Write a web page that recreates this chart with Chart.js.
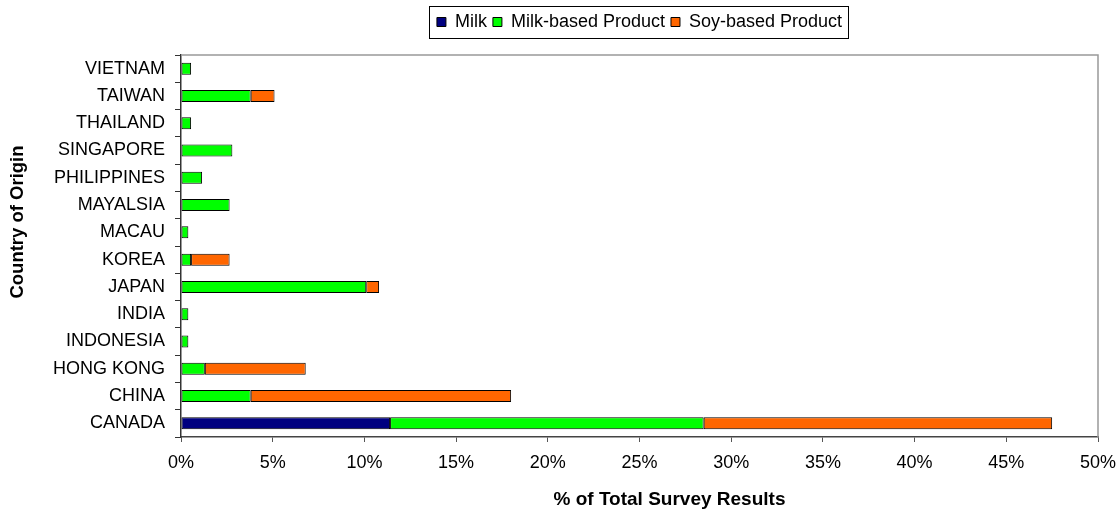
<!DOCTYPE html>
<html lang="en">
<head>
    <meta charset="UTF-8">
    <title>Country of Origin survey</title>
    <script src="https://cdn.jsdelivr.net/npm/chart.js"></script>
    <style>
        html, body { margin: 0; padding: 0; background: #fff; }
        #chart-container { width: 1120px; height: 515px; position: relative; }
    </style>
</head>
<body>
    <div id="chart-container">
        <canvas id="origin_bar-chart"></canvas>
    </div>

    <script>
        // Categories, top to bottom as in the picture
        var countries = ["VIETNAM", "TAIWAN", "THAILAND", "SINGAPORE", "PHILIPPINES", "MAYALSIA", "MACAU",
                         "KOREA", "JAPAN", "INDIA", "INDONESIA", "HONG KONG", "CHINA", "CANADA"];
        // % of total survey results (null = no bar)
        var milk      = [null, null, null, null, null, null, null, null, null, null, null, null, null, 11.4];
        var milkBased = [0.55, 3.8, 0.55, 2.8, 1.15, 2.65, 0.4, 0.55, 10.1, 0.4, 0.4, 1.3, 3.8, 17.1];
        var soyBased  = [null, 1.3, null, null, null, null, null, 2.1, 0.7, null, null, 5.5, 14.2, 19.0];
        var xTicks    = [0, 5, 10, 15, 20, 25, 30, 35, 40, 45, 50];

        var FONT = "'Liberation Sans', Arial, sans-serif";
        Chart.defaults.font.family = FONT;
        Chart.defaults.color = "#000";

        // gray frame on top and right of the plot, box around the legend, axis titles
        var excelFrame = {
            id: "excelFrame",
            beforeLayout: function (chart) {
                // legend band is taller than its items: plot starts at y=55
                var lg = chart.legend;
                if (lg && !lg._fixedFit) {
                    var fit = lg.fit;
                    lg.fit = function () { fit.call(this); this.height = 48; };
                    lg._fixedFit = true;
                }
            },
            beforeDatasetsDraw: function (chart) {
                var a = chart.chartArea, ctx = chart.ctx;
                ctx.save();
                ctx.strokeStyle = "#999";
                ctx.lineWidth = 1.5;
                ctx.beginPath();
                ctx.moveTo(a.left, a.top);
                ctx.lineTo(a.right, a.top);
                ctx.lineTo(a.right, a.bottom);
                ctx.stroke();
                ctx.restore();
            },
            afterDraw: function (chart) {
                var ctx = chart.ctx, a = chart.chartArea;
                var boxes = chart.legend.legendHitBoxes;
                if (boxes && boxes.length) {
                    var l = boxes[0].left, r = boxes[boxes.length - 1].left + boxes[boxes.length - 1].width;
                    var t = boxes[0].top, h = boxes[0].height;
                    ctx.save();
                    ctx.strokeStyle = "#000";
                    ctx.lineWidth = 1;
                    ctx.strokeRect(Math.round(l - 8) + 0.5, Math.round(t + h / 2 - 16) + 0.5,
                                   Math.round(r - l + 14), 32);
                    ctx.restore();
                }
                ctx.save();
                ctx.fillStyle = "#000";
                ctx.font = "bold 19px " + FONT;
                ctx.textAlign = "center";
                ctx.textBaseline = "middle";
                ctx.fillText("% of Total Survey Results", a.left + (a.right - a.left) / 2 + 30, 500);
                ctx.font = "bold 18.5px " + FONT;
                ctx.translate(18, (a.top + a.bottom) / 2 - 24);
                ctx.rotate(-Math.PI / 2);
                ctx.fillText("Country of Origin", 0, 0);
                ctx.restore();
            }
        };

        var ctx = document.getElementById("origin_bar-chart");
        var barChart = new Chart(ctx, {
            type: "bar",
            data: {
                labels: countries,
                datasets: [
                    {
                        label: "Milk",
                        data: milk,
                        backgroundColor: "#000080",
                        borderColor: "#000",
                        borderWidth: 1,
                        borderSkipped: false,
                    },
                    {
                        label: "Milk-based Product",
                        data: milkBased,
                        backgroundColor: "#00ff00",
                        borderColor: "#000",
                        borderWidth: 1,
                        borderSkipped: false,
                    },
                    {
                        label: "Soy-based Product",
                        data: soyBased,
                        backgroundColor: "#ff6600",
                        borderColor: "#000",
                        borderWidth: 1,
                        borderSkipped: false,
                    },
                ]
            },
            options: {
                indexAxis: "y",
                responsive: true,
                maintainAspectRatio: false,
                animation: false,
                categoryPercentage: 1.0,
                barPercentage: 0.44,
                layout: { padding: { left: 0, right: 22, top: 7, bottom: 0 } },
                plugins: {
                    tooltip: { enabled: false },
                    legend: {
                        position: "top",
                        fullSize: false,
                        labels: {
                            boxWidth: 9,
                            boxHeight: 9,
                            padding: 6,
                            color: "#000",
                            font: { size: 18 },
                        }
                    }
                },
                scales: {
                    x: {
                        stacked: true,
                        min: 0,
                        max: 50,
                        afterBuildTicks: function (scale) {
                            scale.ticks = xTicks.map(function (v) { return { value: v }; });
                        },
                        afterFit: function (scale) {
                            scale.height = 78;
                            scale.paddingRight = 0;
                        },
                        ticks: {
                            font: { size: 18 },
                            padding: 10,
                            callback: function (v) { return v + "%"; }
                        },
                        grid: { drawOnChartArea: false, tickLength: 5, color: "#555" },
                        border: { color: "#444", width: 1.5 }
                    },
                    y: {
                        stacked: true,
                        afterFit: function (scale) { scale.width = 181; },
                        ticks: { font: { size: 18 }, padding: 10 },
                        grid: { drawOnChartArea: false, tickLength: 6, color: "#333", offset: true },
                        border: { color: "#333", width: 1.5 }
                    }
                }
            },
            plugins: [excelFrame]
        });
    </script>
</body>
</html>
